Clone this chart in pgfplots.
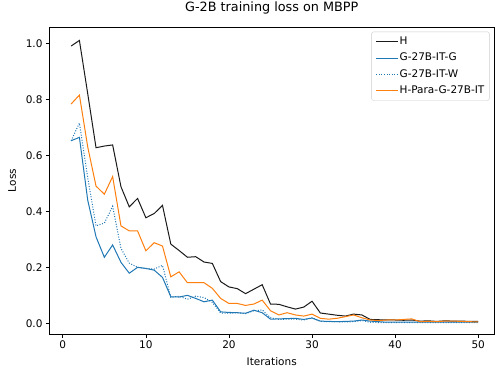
\documentclass[border=0pt]{standalone}
\usepackage{pgfplots}
\pgfplotsset{compat=1.18}
\usepackage{fontspec}
\setmainfont{DejaVu Sans}
\definecolor{mplblue}{HTML}{1F77B4}
\definecolor{mplorange}{HTML}{FF7F0E}
\definecolor{mplk}{HTML}{1A1A1A}
\begin{document}
\begin{tikzpicture}
\path[use as bounding box] (0pt,0pt) rectangle (495pt,368pt);
\begin{axis}[
  at={(49.5pt,34pt)}, anchor=south west,
  scale only axis, width=444.5pt, height=307pt,
  xmin=-1.6, xmax=51.9, ymin=-0.038, ymax=1.058,
  xtick={0,10,20,30,40,50},
  ytick={0,0.2,0.4,0.6,0.8,1.0},
  yticklabel style={/pgf/number format/.cd,fixed,fixed zerofill,precision=1},
  /pgf/number format/assume math mode=true,
  tick label style={font=\fontsize{10.5}{12}\selectfont},
  tick align=outside, tick pos=left,
  major tick length=3.5pt,
  every tick/.style={black, line width=0.6pt},
  axis line style={line width=0.6pt},
  title={G-2B training loss on MBPP},
  title style={font=\fontsize{12.8}{14}\selectfont, at={(0.5,1)}, anchor=base, yshift=10pt},
  xlabel={Iterations},
  ylabel={Loss},
  xlabel style={at={(0.5,0)}, anchor=base, yshift=-31pt, font=\fontsize{10.5}{12}\selectfont},
  every axis y label/.style={at={(axis description cs:0,0.5)}, rotate=90, anchor=south, yshift=30pt, font=\fontsize{10.5}{12}\selectfont},
  legend style={font=\fontsize{10.5}{12}\selectfont, draw=black!20, rounded corners=2pt, at={(0.99,0.985)}, anchor=north east, row sep=4.5pt, inner xsep=4pt, inner ysep=4pt,
    nodes={inner sep=1pt, text height=7.8pt, text depth=2pt}},
  legend cell align=left,
  legend image code/.code={\draw[#1] (0pt,0pt) -- (22pt,0pt);},
]
\addplot[mplk, line width=1pt] coordinates {
(1,0.99) (2,1.01) (3,0.82) (4,0.627) (5,0.633) (6,0.637) (7,0.488) (8,0.416) (9,0.446) (10,0.377)
(11,0.392) (12,0.421) (13,0.283) (14,0.260) (15,0.236) (16,0.238) (17,0.219) (18,0.214) (19,0.149) (20,0.130)
(21,0.124) (22,0.106) (23,0.122) (24,0.138) (25,0.069) (26,0.068) (27,0.059) (28,0.051) (29,0.058) (30,0.079)
(31,0.037) (32,0.033) (33,0.029) (34,0.026) (35,0.033) (36,0.030) (37,0.014) (38,0.013) (39,0.012) (40,0.012)
(41,0.011) (42,0.012) (43,0.008) (44,0.009) (45,0.007) (46,0.009) (47,0.008) (48,0.008) (49,0.007) (50,0.007)
};
\addlegendentry{H}
\addplot[mplblue, line width=1pt] coordinates {
(1,0.652) (2,0.664) (3,0.44) (4,0.309) (5,0.236) (6,0.280) (7,0.218) (8,0.179) (9,0.200) (10,0.196)
(11,0.190) (12,0.164) (13,0.095) (14,0.094) (15,0.100) (16,0.089) (17,0.077) (18,0.083) (19,0.041) (20,0.039)
(21,0.038) (22,0.036) (23,0.047) (24,0.038) (25,0.015) (26,0.016) (27,0.017) (28,0.018) (29,0.014) (30,0.019)
(31,0.008) (32,0.007) (33,0.006) (34,0.007) (35,0.008) (36,0.012) (37,0.008) (38,0.006) (39,0.004) (40,0.004)
(41,0.004) (42,0.004) (43,0.004) (44,0.004) (45,0.004) (46,0.004) (47,0.004) (48,0.004) (49,0.004) (50,0.004)
};
\addlegendentry{G-27B-IT-G}
\addplot[mplblue, line width=1pt, dash pattern=on 1pt off 1.6pt] coordinates {
(1,0.652) (2,0.715) (3,0.52) (4,0.348) (5,0.358) (6,0.418) (7,0.268) (8,0.215) (9,0.200) (10,0.196)
(11,0.194) (12,0.207) (13,0.093) (14,0.097) (15,0.086) (16,0.097) (17,0.092) (18,0.075) (19,0.037) (20,0.036)
(21,0.038) (22,0.035) (23,0.045) (24,0.048) (25,0.020) (26,0.014) (27,0.015) (28,0.015) (29,0.012) (30,0.020)
(31,0.007) (32,0.006) (33,0.006) (34,0.005) (35,0.006) (36,0.010) (37,0.004) (38,0.003) (39,0.003) (40,0.003)
(41,0.003) (42,0.003) (43,0.003) (44,0.003) (45,0.003) (46,0.003) (47,0.003) (48,0.003) (49,0.003) (50,0.003)
};
\addlegendentry{G-27B-IT-W}
\addplot[mplorange, line width=1pt] coordinates {
(1,0.783) (2,0.815) (3,0.63) (4,0.490) (5,0.461) (6,0.524) (7,0.348) (8,0.330) (9,0.330) (10,0.259)
(11,0.288) (12,0.276) (13,0.166) (14,0.184) (15,0.145) (16,0.145) (17,0.145) (18,0.125) (19,0.089) (20,0.071)
(21,0.071) (22,0.064) (23,0.069) (24,0.083) (25,0.045) (26,0.030) (27,0.038) (28,0.030) (29,0.026) (30,0.033)
(31,0.018) (32,0.015) (33,0.018) (34,0.024) (35,0.030) (36,0.020) (37,0.012) (38,0.010) (39,0.012) (40,0.012)
(41,0.014) (42,0.016) (43,0.006) (44,0.007) (45,0.006) (46,0.008) (47,0.008) (48,0.007) (49,0.006) (50,0.005)
};
\addlegendentry{H-Para-G-27B-IT}
\end{axis}
\end{tikzpicture}
\end{document}
